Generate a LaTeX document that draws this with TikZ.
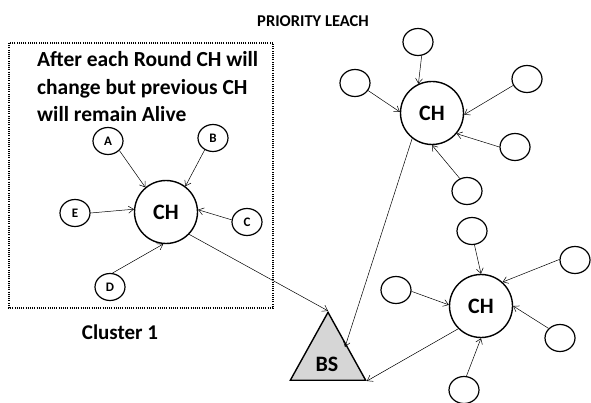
\documentclass[tikz,border=0pt]{standalone}
\usepackage{fontspec}
\setmainfont{Carlito}
\usetikzlibrary{arrows.meta,shapes.geometric}
\tikzset{
  small/.style={draw, line width=1.2pt, shape=ellipse, minimum width=30pt, minimum height=27pt, inner sep=0pt, font=\bfseries\fontsize{13}{13}\selectfont},
  head/.style={draw, line width=1.4pt, circle, minimum size=63pt, inner sep=0pt, font=\bfseries\fontsize{22}{22}\selectfont},
  arr/.style={-{Straight Barb[length=5pt,width=7pt]}, line width=0.5pt},
  lbl/.style={font=\bfseries\fontsize{21.5}{22}\selectfont, inner sep=0pt},
}
\begin{document}
\begin{tikzpicture}[x=1pt,y=-1pt]
\useasboundingbox (0,0) rectangle (591,403);
% cluster box
\draw[line width=1.2pt, dash pattern=on 1pt off 1.2pt] (9,43) rectangle (273,308);
\node[lbl, anchor=base west] (t1) at (37,67) {After each Round CH will};
\node[lbl, anchor=base west] (t2) at (37,94.5) {change but previous CH};
\node[lbl, anchor=base west] (t3) at (37,122) {will remain Alive};
\node[lbl, font=\bfseries\fontsize{16.5}{18}\selectfont, anchor=base] (title) at (313,26.5) {PRIORITY LEACH};
\node[lbl, font=\bfseries\fontsize{21}{22}\selectfont, anchor=base] (cl) at (120,339) {Cluster 1};

% cluster 1
\node[head] (ch) at (166,212) {CH};
\node[small] (a) at (108,141) {A};
\node[small] (b) at (213,138) {B};
\node[small] (e) at (75,213) {E};
\node[small] (c) at (247,222) {C};
\node[small] (d) at (110,287) {D};
\draw[arr] (a.-40) -- (ch.130);
\draw[arr] (b.-125) -- (ch.53);
\draw[arr] (e.0) -- (ch.175);
\draw[arr] (c.172) -- (ch.4);
\draw[arr] (d.80) -- (ch.-95);

% BS
\node[draw, line width=1.4pt, fill=black!16, isosceles triangle, isosceles triangle apex angle=58, shape border rotate=90, minimum height=68pt, inner sep=0pt, anchor=south] (bs) at (328,381) {};
\node[font=\bfseries\fontsize{22}{22}\selectfont] (bst) at (327,364) {BS};
\draw[arr] (ch.-44) -- (bs.apex);

% cluster 2 (top right)
\node[head] (ch1) at (432,113) {CH};
\node[small] (p1) at (418,42) {};
\node[small] (p2) at (355,83) {};
\node[small] (p3) at (527,79) {};
\node[small] (p4) at (515,147) {};
\node[small] (p5) at (467,191) {};
\draw[arr] (p1.-75) -- (ch1.115);
\draw[arr] (p2.-30) -- (ch1.178);
\draw[arr] (p3.205) -- (ch1.-3);
\draw[arr] (p4.180) -- (ch1.-40);
\draw[arr] (p5.120) -- (ch1.-90);
\draw[arr] (ch1.-128) -- (345,347);

% cluster 3 (bottom right)
\node[head] (ch2) at (481,306) {CH};
\node[small] (q1) at (472,231) {};
\node[small] (q2) at (396,290) {};
\node[small] (q3) at (575,260) {};
\node[small] (q4) at (560,338) {};
\node[small] (q5) at (464,390) {};
\draw[arr] (q1.-80) -- (ch2.90);
\draw[arr] (q2.-5) -- (ch2.178);
\draw[arr] (q3.178) -- (ch2.48);
\draw[arr] (q4.140) -- (ch2.0);
\draw[arr] (q5.80) -- (ch2.-90);
\draw[arr] (ch2.-135) -- (bs.right corner);
\end{tikzpicture}
\end{document}
